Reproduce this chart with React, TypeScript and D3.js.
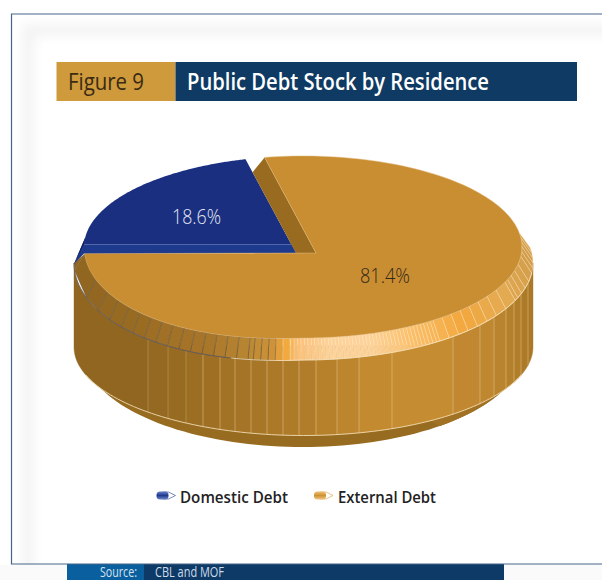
import React from "react";
import * as d3 from "d3";

// Share of the public debt stock, by residence of the creditor (per cent)
const categories = ["Domestic Debt", "External Debt"];
const shares = [18.6, 81.4];
const shareLabels = ["18.6%", "81.4%"];
const faceColors = ["#1a2f80", "#c98d32"];
const figureTag = "Figure 9";
const figureTitle = "Public Debt Stock by Residence";
const sourceTag = "Source:";
const sourceText = "CBL and MOF";

// Horizontal positions of the seams on the outer wall of the disc
const wallSeams = [148, 168, 186, 203, 220, 235, 251, 267, 283, 299, 316, 337, 359, 392, 453, 480, 494, 506, 514, 521, 528];

type Ellipse = { cx: number; cy: number; rx: number; ry: number };
const topFace: Ellipse = { cx: 303, cy: 247, rx: 219, ry: 91 };
const bevelEdge: Ellipse = { cx: 303.5, cy: 263, rx: 229.5, ry: 97 };
const wallBottom: Ellipse = { cx: 303.5, cy: 347, rx: 229.5, ry: 88.5 };
const baseEdge: Ellipse = { cx: 303, cy: 350, rx: 220, ry: 97 };
const apexes = [
  { x: 296, y: 253 },
  { x: 316, y: 253 },
];
const tilt = 1.265;
const frontLeftSag = 5;

const wallColor = d3
  .scaleLinear<string>()
  .domain([74, 145, 300, 400, 495, 533])
  .range(["#8f6520", "#926720", "#b07c2a", "#c98e32", "#bd8630", "#a97725"])
  .interpolate(d3.interpolateRgb);
const bevelColor = d3
  .scaleLinear<string>()
  .domain([74, 140, 210, 245, 272, 286, 298, 330, 370, 410, 462, 505, 533])
  .range(["#8f6520", "#9a6c22", "#a9772a", "#b88632", "#cf9238", "#f2a93c", "#fbbf78", "#fdd299", "#fdd299", "#fbc06c", "#f3a83e", "#e4aa52", "#cf9a48"])
  .interpolate(d3.interpolateRgb);

// The upper rings sag slightly on the front left quadrant, as the perspective of the disc does
const sagAt = (e: Ellipse, t: number) =>
  (e === topFace || e === bevelEdge) && t > Math.PI / 2 && t < Math.PI ? frontLeftSag * Math.sin(2 * (t - Math.PI / 2)) : 0;
const onEllipse = (e: Ellipse, t: number): [number, number] => [e.cx + e.rx * Math.cos(t), e.cy + e.ry * Math.sin(t) + sagAt(e, t)];
const lowerY = (e: Ellipse, x: number) => {
  const u = Math.max(-1, Math.min(1, (x - e.cx) / e.rx));
  return onEllipse(e, Math.acos(u))[1];
};

// Casts a ray from a slice's apex, in the tilted pie direction, to the edge of the top face
function rimPoint(angle: number, apex: { x: number; y: number }): [number, number] {
  const dx = Math.sin(angle) * tilt;
  const dy = -Math.cos(angle);
  const ox = (apex.x - topFace.cx) / topFace.rx;
  const oy = (apex.y - topFace.cy) / topFace.ry;
  const ux = dx / topFace.rx;
  const uy = dy / topFace.ry;
  const a = ux * ux + uy * uy;
  const b = 2 * (ox * ux + oy * uy);
  const c = ox * ox + oy * oy - 1;
  const s = (-b + Math.sqrt(b * b - 4 * a * c)) / (2 * a);
  const px = apex.x + dx * s;
  const py = apex.y + dy * s;
  const t = Math.atan2((py - topFace.cy) / topFace.ry, (px - topFace.cx) / topFace.rx);
  return [px, py + sagAt(topFace, t)];
}

const line = d3.line();
const pieLayout = d3
  .pie<number>()
  .sort(null)
  .startAngle(-Math.PI / 2)
  .endAngle((3 * Math.PI) / 2);
const slices = pieLayout(shares);

function sectorPath(startAngle: number, endAngle: number, apex: { x: number; y: number }) {
  const steps = d3.range(0, 121).map((i) => startAngle + ((endAngle - startAngle) * i) / 120);
  const pts: [number, number][] = [[apex.x, apex.y], ...steps.map((a) => rimPoint(a, apex))];
  return line(pts) + "Z";
}

// The front half of the bevelled ring: wide facets on the left, very narrow ones in the highlight
const bevelSeamXs = [
  ...d3.range(518, 505, -3.5),
  ...d3.range(505, 430, -9),
  ...d3.range(430, 290, -3.4),
  ...d3.range(290, 250, -7),
  ...d3.range(250, 88, -11),
];
const lastBevel = (176 * Math.PI) / 180;
const bevelSteps = [
  ...[-9, -6, -3, 0, 3, 6].map((d) => (d * Math.PI) / 180),
  ...bevelSeamXs.map((x) => Math.acos((x - topFace.cx) / topFace.rx)),
  lastBevel,
];
const bevelFacets = bevelSteps.slice(0, -1).map((t, i) => {
  const t2 = bevelSteps[i + 1];
  const pts = [onEllipse(topFace, t), onEllipse(topFace, t2), onEllipse(bevelEdge, t2), onEllipse(bevelEdge, t)];
  return { pts, mid: (pts[0][0] + pts[3][0] + pts[1][0] + pts[2][0]) / 4 };
});

function arcPoints(e: Ellipse, from: number, to: number, n = 90) {
  return d3.range(0, n + 1).map((i) => onEllipse(e, from + ((to - from) * i) / n));
}

// One wall panel between two seams, sampled by ellipse parameter so the curved corners stay smooth
function wallPanel(x0: number, x1: number) {
  const param = (e: Ellipse, x: number) => Math.acos(Math.max(-1, Math.min(1, (x - e.cx) / e.rx)));
  const samples = (e: Ellipse) => {
    const t0 = param(e, x0);
    const t1 = param(e, x1);
    return d3.range(0, 25).map((k) => onEllipse(e, t0 + ((t1 - t0) * k) / 24));
  };
  return line([...samples(bevelEdge), ...samples(wallBottom).reverse()]) + "Z";
}

export default function App() {
  const ordered = [74, ...wallSeams, 533];
  const wallFacets = ordered.slice(0, -1).map((x0, i) => {
    const x1 = ordered[i + 1];
    return { d: wallPanel(x0, x1), fill: wallColor((x0 + x1) / 2) };
  });

  const baseFront = arcPoints(baseEdge, -0.05, Math.PI + 0.05);
  const domestic = slices[0];
  const external = slices[1];
  const domEnd = rimPoint(domestic.endAngle, apexes[0]);
  const extStart = rimPoint(external.startAngle, apexes[1]);
  // Where the cut face of the external slice disappears behind the domestic slice
  const domEdgeTop: [number, number] = [
    apexes[0].x + (domEnd[0] - apexes[0].x) * 0.86,
    apexes[0].y + (domEnd[1] - apexes[0].y) * 0.86,
  ];

  return (
    <svg width={602} height={580} style={{ position: "absolute", left: 0, top: 0, fontFamily: "'Open Sans', sans-serif" }}>
      <defs>
        <filter id="soft" x="-10%" y="-10%" width="120%" height="120%">
          <feGaussianBlur stdDeviation="6" />
        </filter>
        <clipPath id="domesticClip">
          <path d={sectorPath(domestic.startAngle, domestic.endAngle, apexes[0])} />
        </clipPath>
        <linearGradient id="penBlue" x1="0" y1="0" x2="0" y2="1">
          <stop offset="0" stopColor="#6a82c8" />
          <stop offset="0.5" stopColor="#1f3a8e" />
          <stop offset="1" stopColor="#6f88cc" />
        </linearGradient>
        <linearGradient id="penGold" x1="0" y1="0" x2="0" y2="1">
          <stop offset="0" stopColor="#eec27c" />
          <stop offset="0.5" stopColor="#cf9232" />
          <stop offset="1" stopColor="#f0c685" />
        </linearGradient>
      </defs>

      <rect width={602} height={580} fill="#fff" />
      <rect x={28} y={30} width={620} height={570} fill="none" stroke="#f2f2f2" strokeWidth={11} filter="url(#soft)" />
      <rect x={0} y={565} width={602} height={15} fill="#fafafa" />

      {/* Source strip under the panel */}
      <rect x={67} y={564} width={77} height={16} fill="#0a5f9f" />
      <rect x={144} y={564} width={360} height={16} fill="#0d3a66" />
      <text x={100} y={577} fontSize={14} fill="#d7e3ee" textLength={37} lengthAdjust="spacingAndGlyphs">{sourceTag}</text>
      <text x={155} y={577} fontSize={14} fill="#cfdbe8" textLength={69} lengthAdjust="spacingAndGlyphs">{sourceText}</text>

      {/* Panel outline: open towards the right */}
      <path d="M602,14H11.5V564H602" fill="none" stroke="#476488" strokeWidth={1.2} />

      {/* Title bar */}
      <rect x={56.5} y={62} width={119} height={39} fill="#cf9a3b" />
      <rect x={175.5} y={62} width={401.5} height={39} fill="#0e3a63" />
      <text x={68} y={90} fontSize={23} fill="#3a2a14" textLength={76} lengthAdjust="spacingAndGlyphs">{figureTag}</text>
      <text x={187} y={90} fontSize={23} fontWeight={600} fill="#fff" textLength={302} lengthAdjust="spacingAndGlyphs">{figureTitle}</text>

      {/* Base band */}
      <path d={line(baseFront) + "Z"} fill="#976b20" />
      <path d={line(arcPoints(baseEdge, 0.05, 0.9)) + "L303,350Z"} fill="#a17224" />

      {/* Outer wall */}
      {wallFacets.map((f, i) => (
        <path key={i} d={f.d} fill={f.fill} stroke={f.fill} strokeWidth={0.4} />
      ))}
      {wallSeams.map((x) => (
        <line
          key={x}
          x1={x}
          x2={x}
          y1={lowerY(bevelEdge, x)}
          y2={lowerY(wallBottom, x)}
          stroke={x < 190 ? "#d8bd88" : "#e9cf9e"}
          strokeOpacity={x < 190 ? 0.45 : 0.6}
          strokeWidth={0.8}
        />
      ))}
      <path d={line(arcPoints(wallBottom, 0.32, Math.PI - 0.32))} fill="none" stroke="#f0dcb4" strokeWidth={0.9} />

      {/* Bevelled ring between wall and top face */}
      {bevelFacets.map((f, i) => (
        <path
          key={i}
          d={line(f.pts as [number, number][]) + "Z"}
          fill={bevelColor(f.mid)}
          stroke={f.mid < 275 ? "#5e5240" : "#fde6c2"}
          strokeOpacity={f.mid < 275 ? 0.75 : 0.5}
          strokeWidth={0.6}
        />
      ))}
      <path d={line([onEllipse(topFace, lastBevel), onEllipse(bevelEdge, lastBevel), onEllipse(bevelEdge, Math.PI)])! + "Z"} fill="#8f6520" />
      <path d={line(arcPoints(bevelEdge, 0.1, Math.PI).filter((p) => p[0] > 225))} fill="none" stroke="#f6e2bc" strokeWidth={0.8} />
      <path d={line(arcPoints(bevelEdge, 1.5, Math.PI).filter((p) => p[0] <= 230))} fill="none" stroke="#5c5a70" strokeWidth={0.7} />

      {/* Domestic slice with its thin rim */}
      <path d={line([[85, 238], [74, 264], [84.5, 253], [90, 244]])! + "Z"} fill="#1d3a8c" />
      <path d={line([[85, 238], [74, 264], [78, 256], [84, 244]])! + "Z"} fill="#0f1f5c" />
      <path d={sectorPath(domestic.startAngle, domestic.endAngle, apexes[0])} fill={faceColors[0]} />
      <g clipPath="url(#domesticClip)">
        <rect x={70} y={244} width={240} height={10} fill="#1d3a8c" />
      </g>
      <line x1={84} x2={292} y1={244.5} y2={244.5} stroke="#5a6cab" strokeWidth={0.9} />

      {/* Cut face of the external slice */}
      <path d={line([extStart, [apexes[1].x, apexes[1].y], [apexes[0].x, apexes[0].y], domEdgeTop])! + "Z"} fill="#986b20" />

      {/* External slice */}
      <path d={sectorPath(external.startAngle, external.endAngle, apexes[1])} fill={faceColors[1]} stroke="#e0b878" strokeWidth={0.5} />

      <text x={172} y={224} fontSize={21} fontWeight={300} fill="#e4e8f4" textLength={49} lengthAdjust="spacingAndGlyphs">{shareLabels[0]}</text>
      <text x={360} y={283} fontSize={21} fontWeight={300} fill="#33281a" textLength={50} lengthAdjust="spacingAndGlyphs">{shareLabels[1]}</text>

      {/* Legend */}
      {categories.map((name, i) => {
        const iconX = [156.5, 314][i];
        const textX = [180, 338][i];
        const widths = [108, 98];
        return (
          <g key={name}>
            <path
              d={`M${iconX + 6},492H${iconX + 12}L${iconX + 19},495.5L${iconX + 12},499H${iconX + 6}Z`}
              fill="#fff"
              stroke={i === 0 ? "#3d5aa8" : "#dca955"}
              strokeWidth={0.7}
            />
            <rect x={iconX} y={491.5} width={12} height={8} rx={3.5} fill={i === 0 ? "url(#penBlue)" : "url(#penGold)"} />
            <text x={textX} y={503} fontSize={16} fontWeight={600} fill="#222" textLength={widths[i]} lengthAdjust="spacingAndGlyphs">{name}</text>
          </g>
        );
      })}
    </svg>
  );
}
